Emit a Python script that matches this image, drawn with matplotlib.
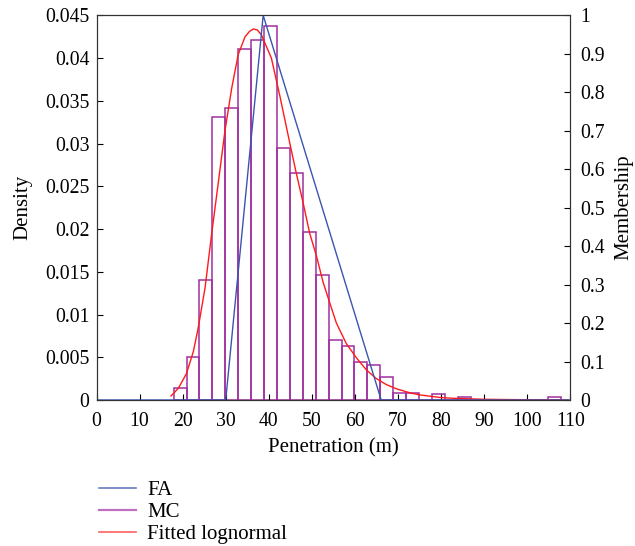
import numpy as np
import matplotlib
matplotlib.use("Agg")
import matplotlib.pyplot as plt
from matplotlib.lines import Line2D
from matplotlib.ticker import FuncFormatter, MultipleLocator

# Monte Carlo histogram (density), bins of width 3 starting at 17.9 m
bin_start = 17.9
bin_width = 3.0
mc_density = [0.00137, 0.00507, 0.0140, 0.0331, 0.0342, 0.0411, 0.0421, 0.0438,
              0.0295, 0.0265, 0.0196, 0.0146, 0.0070, 0.0063, 0.0044, 0.0041,
              0.0027, 0.0008, 0.0008, 0.0, 0.00075, 0.0, 0.0004, 0.0, 0.0,
              0.0, 0.0, 0.0, 0.0, 0.0004]

# fitted lognormal
logn_x = [17.3, 19.0, 20.9, 22.5, 23.6, 25.2, 26.7, 28.3, 29.8, 31.4, 32.9, 34.5,
          35.5, 36.4, 37.3, 38.3, 40.6, 42.6, 44.9, 46.4, 48.0, 49.5, 51.1, 52.6,
          54.2, 55.7, 58.0, 60.4, 62.7, 65.0, 67.3, 69.7, 72.7, 75.0, 79.7, 82.8,
          90.0, 100.0, 109.5]
logn_y = [0.00047, 0.00137, 0.0031, 0.0057, 0.0084, 0.0131, 0.0193, 0.0255, 0.0314,
          0.0365, 0.0404, 0.0425, 0.0431, 0.0434, 0.0433, 0.0427, 0.0400, 0.0355,
          0.0300, 0.0265, 0.0230, 0.0195, 0.0168, 0.0138, 0.0113, 0.0090, 0.0066,
          0.0049, 0.0035, 0.0025, 0.0018, 0.0013, 0.00085, 0.0006, 0.0003, 0.0002,
          0.00008, 0.00003, 0.00001]

# fuzzy (FA) triangular membership
fa_x = [0, 30.0, 38.7, 66.1, 110]
fa_m = [0, 0, 1, 0, 0]

plt.rcParams['font.family'] = 'Liberation Serif'
plt.rcParams['font.size'] = 15
plt.rcParams['xtick.labelsize'] = 14.2
plt.rcParams['ytick.labelsize'] = 14.2

blue = '#3a55b0'
purple = '#a0309f'
red = '#ff1a1a'

fig = plt.figure(figsize=(6.35, 5.46), dpi=100)
ax = fig.add_axes([0.152, 0.2674, 0.746, 0.7046])
ax2 = ax.twinx()

edges = bin_start + bin_width * np.arange(len(mc_density))
ax.bar(edges, mc_density, width=bin_width, align='edge', fill=False,
       edgecolor=purple, linewidth=1.1)
ax.plot(logn_x, logn_y, color=red, lw=1.0)
ax2.plot(fa_x, fa_m, color=blue, lw=1.0)

ax.set_xlim(0, 110)
ax.set_ylim(0, 0.045)
ax2.set_ylim(0, 1)
ax.xaxis.set_major_locator(MultipleLocator(10))
ax.yaxis.set_major_locator(MultipleLocator(0.005))
ax2.yaxis.set_major_locator(MultipleLocator(0.1))
fmt = FuncFormatter(lambda v, p: '%g' % round(v, 4))
ax.yaxis.set_major_formatter(fmt)
ax2.yaxis.set_major_formatter(fmt)

ax.tick_params(axis='y', direction='in', length=4, right=False, pad=5)
ax.tick_params(axis='x', direction='in', length=4, top=False, pad=9)
ax2.tick_params(direction='in', length=4, pad=7)
for a in (ax, ax2):
    for s in a.spines.values():
        s.set_color('#333333')

ax.set_xlabel('Penetration (m)', labelpad=5)
ax.set_ylabel('Density', labelpad=9)
ax2.set_ylabel('Membership', labelpad=7)

handles = [Line2D([], [], color='#6a7cc0', lw=1.2),
           Line2D([], [], color='#c070c0', lw=1.6),
           Line2D([], [], color='#ff6060', lw=1.2)]
fig.legend(handles, ['FA', 'MC', 'Fitted lognormal'],
           loc='upper left', bbox_to_anchor=(0.14, 0.139), frameon=False,
           handlelength=1.75, handletextpad=0.55, labelspacing=0.12, borderpad=0)

fig.savefig('out.png', dpi=100)
